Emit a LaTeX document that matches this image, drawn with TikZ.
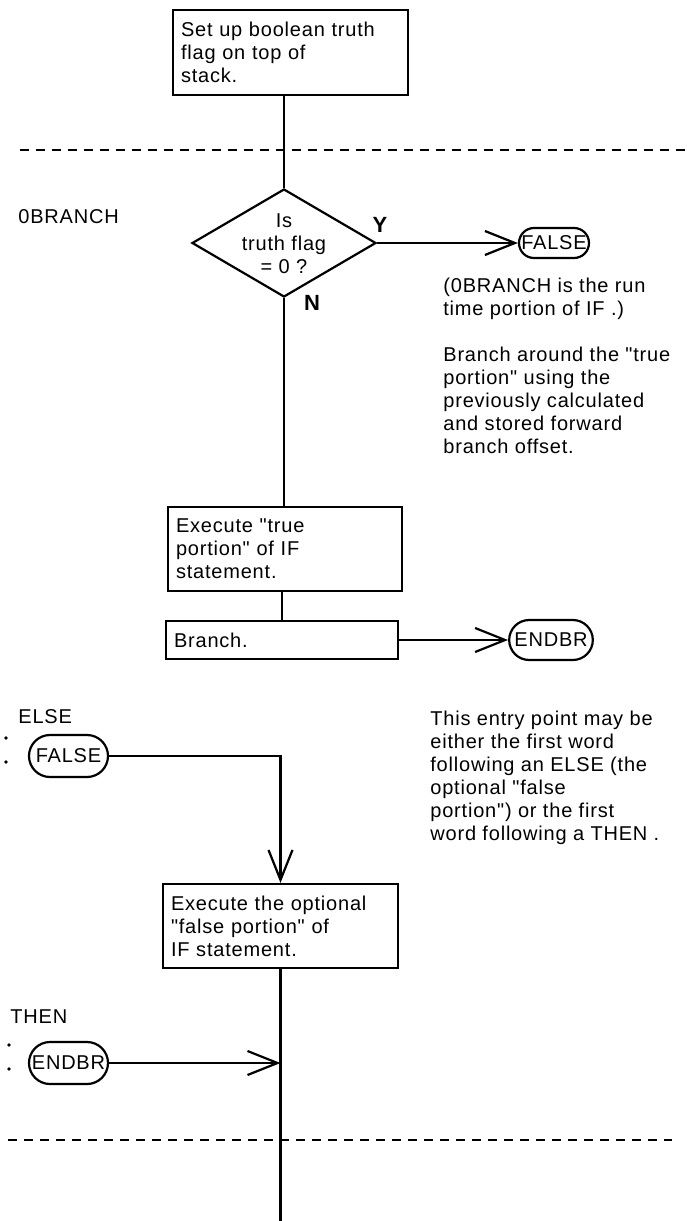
\documentclass[tikz,border=0pt]{standalone}
\usepackage{fontspec}
\setmainfont{Liberation Sans}[LetterSpace=4, Ligatures=TeXOff]
\usepackage{tikz}
\usetikzlibrary{arrows.meta,positioning,shapes.geometric,shapes.misc}

\begin{document}
\begin{tikzpicture}[
    x=0.5pt, y=-0.5pt,
    font=\fontsize{10}{11.5}\selectfont,
    procbox/.style={
      rectangle, draw, line width=1.1pt,
      align=left, inner xsep=4pt, inner ysep=2pt,
      text width=#1
    },
    decision/.style={
      diamond, draw, line width=1.1pt,
      minimum width=92pt, minimum height=54pt, inner sep=0pt
    },
    terminal/.style={
      rounded rectangle, draw, line width=1.1pt,
      inner xsep=2pt, inner ysep=1pt
    },
    note/.style={align=left, anchor=west, inner sep=0pt},
    flag/.style={font=\fontsize{11}{12}\selectfont\bfseries, inner sep=0pt},
    link/.style={line width=1.1pt},
    arr/.style={-{Straight Barb[length=15pt, width=12pt, line width=1.1pt]}, line width=1.1pt},
    sep/.style={line width=1pt, dash pattern=on 4.5pt off 3.5pt},
  ]
  \useasboundingbox (0,0) rectangle (686,1221);

  % Set up flag
  \node[procbox=109.5pt, minimum height=42.5pt] (setup) at (290.5,52.5)
    {Set up boolean truth\\flag on top of\\stack.};

  % Separators
  \coordinate (sepAl) at (20,150);
  \coordinate (sepAr) at (686,150);
  \coordinate (sepBl) at (8,1140);
  \coordinate (sepBr) at (672,1140);

  % 0BRANCH
  \node[anchor=west, inner sep=0pt] (lblzbr) at (18,217) {0BRANCH};
  \node[decision] (test) at (284,243) {};
  \node[align=center, inner sep=0pt] (testtxt) at (284,244) {Is\\truth flag\\= 0 ?};
  \node[flag] (yes) at (380,225) {Y};
  \node[flag] (no)  at (312,303) {N};
  \node[terminal, minimum width=39pt, minimum height=15pt] (false) at (554,243) {FALSE};
  \node[note] (runtime) at (443,299) {(0BRANCH is the run\\time portion of IF .)};
  \node[note] (around)  at (443,400)
    {Branch around the "true\\portion" using the\\previously calculated\\and stored forward\\branch offset.};

  % True portion
  \node[procbox=109pt, minimum height=42pt] (truepart) at (285,549)
    {Execute "true\\portion" of IF\\statement.};
  \node[procbox=108pt, minimum height=19pt] (branch) at (282,640) {Branch.};
  \node[terminal, minimum width=39pt, minimum height=20pt] (endbr) at (551,640) {ENDBR};

  % ELSE
  \node[anchor=west, inner sep=0pt] (lblelse) at (18,717) {ELSE};
  \node[terminal, minimum width=43.5pt, minimum height=21pt] (falsetwo) at (68.5,756) {FALSE};
  \node[note] (entry) at (430,778)
    {This entry point may be\\either the first word\\following an ELSE (the\\optional "false\\portion") or the first\\word following a THEN .};
  \node[procbox=109.5pt, minimum height=42pt] (falsepart) at (280.5,926)
    {Execute the optional\\"false portion" of\\IF statement.};

  % THEN
  \node[anchor=west, inner sep=0pt] (lblthen) at (10,1017) {THEN};
  \node[terminal, minimum width=43.5pt, minimum height=21pt] (endbrtwo) at (68.5,1063) {ENDBR};
  \coordinate (exit) at (277,1221);

  % entry dots
  \fill (6,738) circle (0.9pt);
  \fill (6,762) circle (0.9pt);
  \fill (9,1045) circle (0.9pt);
  \fill (9,1069) circle (0.9pt);

  % Edges
  \draw[link] (setup.south -| test.north) -- (test.north);
  \draw[arr]  (test.east) -- (false.west);
  \draw[link] (test.south) -- (test.south |- truepart.north);
  \draw[link] (branch.north |- truepart.south) -- (branch.north);
  \draw[arr]  (branch.east) -- (endbr.west);
  \draw[arr]  (falsetwo.east) -| (falsepart.north);
  \draw[link] (falsepart.south) -- (falsepart.south |- exit);
  \draw[arr]  (endbrtwo.east) -- (endbrtwo.east -| falsepart.south);

  % Dashed separators
  \draw[sep] (sepAl) -- (sepAr);
  \draw[sep] (sepBl) -- (sepBr);

\end{tikzpicture}
\end{document}
